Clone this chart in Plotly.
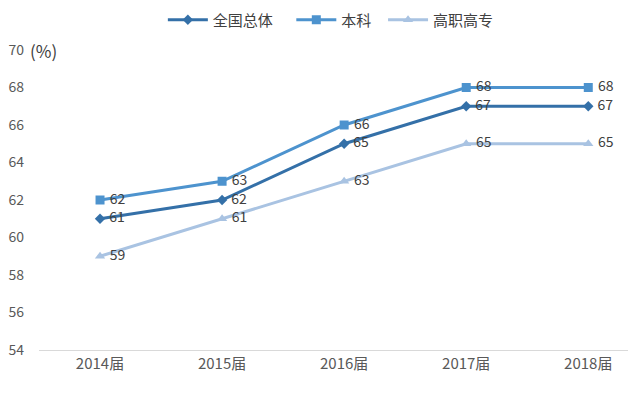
import plotly.graph_objects as go

categories = ["2014届", "2015届", "2016届", "2017届", "2018届"]
series_names = ["全国总体", "本科", "高职高专"]
national = [61, 62, 65, 67, 67]
bachelor = [62, 63, 66, 68, 68]
vocational = [59, 61, 63, 65, 65]
y_ticks = [54, 56, 58, 60, 62, 64, 66, 68, 70]

colors = ["#3470A8", "#4D93CE", "#A9C3E2"]
symbols = ["diamond", "square", "triangle-up"]
sizes = [8, 9, 9]
legend_pad = ["\u00a0\u00a0\u00a0\u00a0", "\u00a0\u00a0", ""]
font_family = "Noto Sans CJK SC, Noto Sans, sans-serif"

fig = go.Figure()
for name, vals, c, s, sz, pad in zip(series_names, [national, bachelor, vocational], colors, symbols, sizes, legend_pad):
    fig.add_trace(go.Scatter(
        x=categories, y=vals, name=name + pad, mode="lines+markers+text",
        line=dict(color=c, width=3),
        marker=dict(symbol=s, size=sz, color=c),
        text=[" " + str(v) for v in vals], textposition="middle right",
        textfont=dict(size=14, color="#404040", family=font_family),
        cliponaxis=False,
    ))

# page body has an 8px margin, so the figure is sized/placed to compensate
fig.update_layout(
    width=628, height=389,
    margin=dict(l=31, r=5, t=42, b=47, autoexpand=False),
    plot_bgcolor="white", paper_bgcolor="white",
    font=dict(family=font_family, size=14, color="#595959"),
    showlegend=True,
    legend=dict(orientation="h", x=0.493, xanchor="center", y=0.969, yanchor="middle",
                yref="container", font=dict(size=15, color="#404040"),
                itemwidth=40, tracegroupgap=0),
    xaxis=dict(type="category", range=[-0.5, 4.35], showgrid=False,
               showline=True, linecolor="#D9D9D9", linewidth=1, ticks="",
               tickfont=dict(size=15, color="#595959")),
    yaxis=dict(range=[54, 70], tickvals=y_ticks, showgrid=False, zeroline=False,
               showline=False, ticks="", ticklabelstandoff=14,
               tickfont=dict(size=14, color="#595959")),
    annotations=[dict(text="(%)", xref="paper", yref="y", x=0, y=70, xanchor="left",
                      yanchor="middle", xshift=-11, showarrow=False,
                      font=dict(size=17, color="#404040"))],
)

fig.write_html("out.html")
